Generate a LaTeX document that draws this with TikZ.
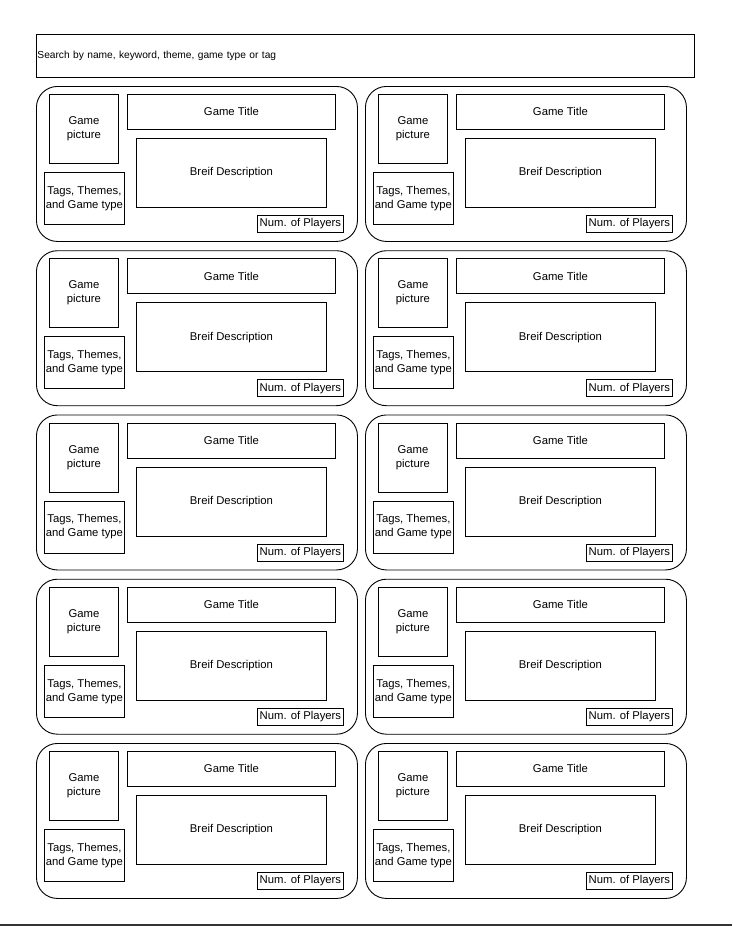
\documentclass[tikz,border=0pt]{standalone}
\usepackage{fontspec}
\setmainfont{Liberation Sans}
\usetikzlibrary{positioning}
\definecolor{RuleGray}{RGB}{51,51,51}
\tikzset{
  card/.style={draw=black,line width=0.9pt,rounded corners=21pt,anchor=north west,
    inner sep=0pt,minimum width=321pt,minimum height=155pt},
  box/.style={draw=black,line width=0.8pt,anchor=north west,inner sep=0pt,align=center,
    font=\fontsize{11.3}{14}\selectfont},
  searchbar/.style={draw=black,line width=0.9pt,anchor=north west,inner xsep=1pt,inner ysep=0pt,
    text width=656pt,minimum height=43pt,align=left,font=\fontsize{10.2}{12}\selectfont},
}

\begin{document}
\begin{tikzpicture}[x=1pt,y=-1pt]
\useasboundingbox (0,0) rectangle (732,926);
\node[searchbar] (search) at (36,34) {\raisebox{-1pt}{Search by name, keyword, theme, game type or tag}};
% two columns of game cards, five rows
\foreach \r in {0,...,4}{
  \foreach \c in {0,1}{
    \begin{scope}[shift={(36+329*\c,86+164.25*\r)}]
      \node[card] (card-\r-\c) at (0,0) {};
      \node[box,minimum width=69pt,minimum height=69pt] (pic-\r-\c) at (13,8) {Game\\picture};
      \node[box,minimum width=208pt,minimum height=35pt] (title-\r-\c) at (91,8) {Game Title};
      \node[box,minimum width=190pt,minimum height=69pt] (desc-\r-\c) at (100,52) {Breif Description};
      \node[box,minimum width=80pt,minimum height=52pt] (tags-\r-\c) at (8,86) {Tags, Themes,\\and Game type};
      \node[box,minimum width=86pt,minimum height=17pt] (players-\r-\c) at (221,129) {Num. of Players};
    \end{scope}
  }
}
\draw[RuleGray,line width=2.5pt] (0,925) -- (732,925);
\end{tikzpicture}
\end{document}
